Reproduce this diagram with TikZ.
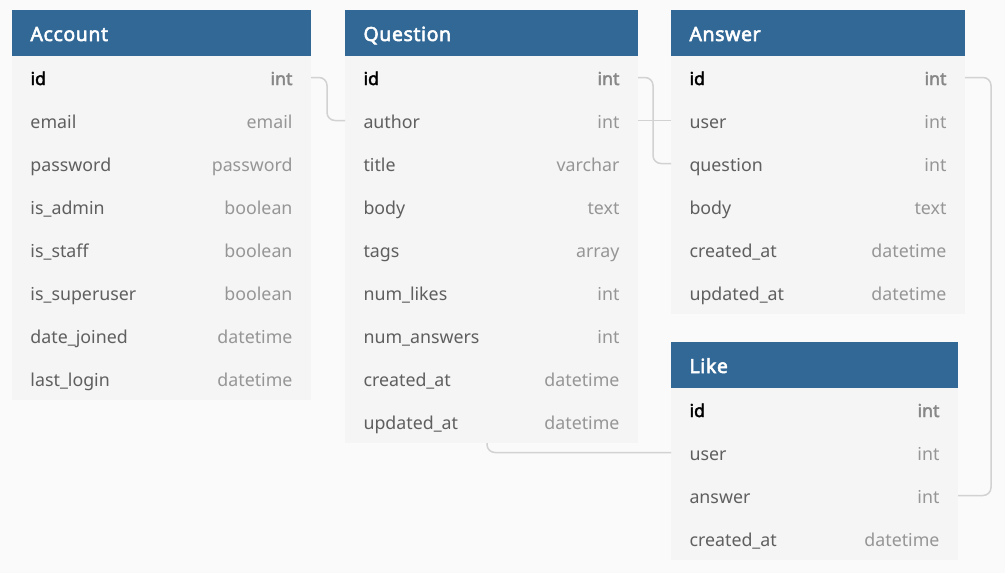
\documentclass[tikz,border=0pt]{standalone}
\usepackage{fontspec}
\setmainfont{Noto Sans}[AutoFakeBold=2.2]
\newfontfamily\headfont{Noto Sans}[FakeBold=2.8, LetterSpace=3]
\usetikzlibrary{positioning}
\definecolor{headblue}{RGB}{50,104,150}
\definecolor{rowgray}{RGB}{245,245,245}
\definecolor{pagegray}{RGB}{250,250,250}
\definecolor{namegray}{RGB}{95,95,95}
\definecolor{typegray}{RGB}{150,150,150}
\definecolor{linkgray}{RGB}{210,210,210}
\newcommand{\ty}[1]{\hskip 0pt plus 1filll{\color{typegray}#1}}
\newcommand{\key}[1]{{\color{black}\bfseries id}\hskip 0pt plus 1filll{\color{typegray!90!black}\bfseries #1}}

\begin{document}
\begin{tikzpicture}
		[x=1pt, y=-1pt,
		head/.style = {fill=headblue, text=white, anchor=north west, inner xsep=18.5pt, inner ysep=0pt, outer sep=0pt,
			minimum height=46pt, text height=16pt, text depth=0pt, text width=#1, font=\fontsize{19.5}{22}\headfont},
		row/.style = {fill=rowgray, text=namegray, anchor=north, inner xsep=18.5pt, inner ysep=0pt, outer sep=0pt,
			minimum height=43pt, text height=16pt, text depth=1pt, font=\fontsize{17.8}{20}\selectfont},
		acc/.style = {row, text width=262pt},
		que/.style = {row, text width=256pt},
		ans/.style = {row, text width=257pt},
		lik/.style = {row, text width=250pt},
		link/.style = {draw=linkgray, line width=1.5pt, rounded corners=8pt}]
	\fill[pagegray] (0,0) rectangle (1005,573);
	\useasboundingbox (0,0) rectangle (1005,573);
	% Account
	\node[head=262pt] (account) at (12,10) {Account};
	\node[acc, below=0pt of account] (acc1) {\key{int}};
	\node[acc, below=0pt of acc1] (acc2) {email\ty{email}};
	\node[acc, below=0pt of acc2] (acc3) {password\ty{password}};
	\node[acc, below=0pt of acc3] (acc4) {is\_admin\ty{boolean}};
	\node[acc, below=0pt of acc4] (acc5) {is\_staff\ty{boolean}};
	\node[acc, below=0pt of acc5] (acc6) {is\_superuser\ty{boolean}};
	\node[acc, below=0pt of acc6] (acc7) {date\_joined\ty{datetime}};
	\node[acc, below=0pt of acc7] (acc8) {last\_login\ty{datetime}};
	% Question
	\node[head=256pt] (question) at (345,10) {Question};
	\node[que, below=0pt of question] (que1) {\key{int}};
	\node[que, below=0pt of que1] (que2) {author\ty{int}};
	\node[que, below=0pt of que2] (que3) {title\ty{varchar}};
	\node[que, below=0pt of que3] (que4) {body\ty{text}};
	\node[que, below=0pt of que4] (que5) {tags\ty{array}};
	\node[que, below=0pt of que5] (que6) {num\_likes\ty{int}};
	\node[que, below=0pt of que6] (que7) {num\_answers\ty{int}};
	\node[que, below=0pt of que7] (que8) {created\_at\ty{datetime}};
	\node[que, below=0pt of que8] (que9) {updated\_at\ty{datetime}};
	% Answer
	\node[head=257pt] (answer) at (671,10) {Answer};
	\node[ans, below=0pt of answer] (ans1) {\key{int}};
	\node[ans, below=0pt of ans1] (ans2) {user\ty{int}};
	\node[ans, below=0pt of ans2] (ans3) {question\ty{int}};
	\node[ans, below=0pt of ans3] (ans4) {body\ty{text}};
	\node[ans, below=0pt of ans4] (ans5) {created\_at\ty{datetime}};
	\node[ans, below=0pt of ans5] (ans6) {updated\_at\ty{datetime}};
	% Like
	\node[head=250pt] (like) at (671,342) {Like};
	\node[lik, below=0pt of like] (lik1) {\key{int}};
	\node[lik, below=0pt of lik1] (lik2) {user\ty{int}};
	\node[lik, below=0pt of lik2] (lik3) {answer\ty{int}};
	\node[lik, below=0pt of lik3] (lik4) {created\_at\ty{datetime}};
	% links
	\draw[link] (acc1.east) -- ++(16,0) |- (que2.west);
	\draw[link] (que1.east) -- ++(15,0) |- (ans3.west);
	\draw[link] (que2.east) -- (ans2.west);
	\draw[link] (ans1.east) -- ++(26,0) |- (lik3.east);
	\draw[link] ([xshift=142pt]que9.south west) |- (lik2.west);
\end{tikzpicture}
\end{document}
